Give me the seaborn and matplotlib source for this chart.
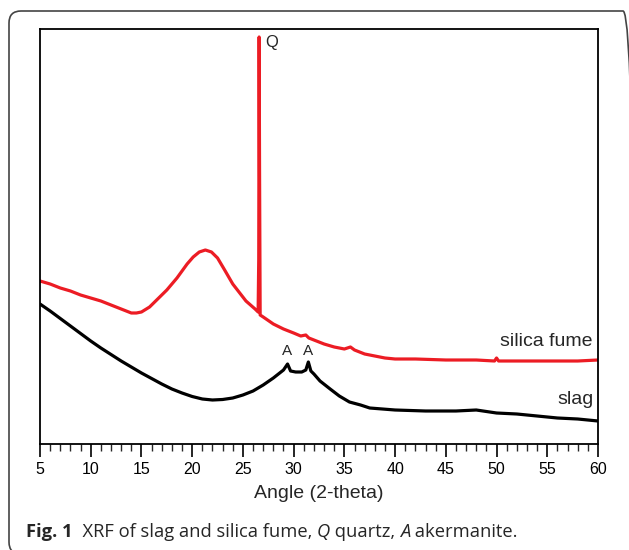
import numpy as np
import pandas as pd
import matplotlib
matplotlib.use("Agg")
import matplotlib.pyplot as plt
import seaborn as sns
from matplotlib.patches import FancyBboxPatch
from matplotlib.ticker import MultipleLocator

# ---- data (intensity in arbitrary units) ----
sf_angle = [5, 6, 7, 8, 9, 10, 11, 12, 13, 13.5, 14, 14.5, 15, 15.8, 16.5, 17.5, 18.5, 19.5, 20.1,
            20.7, 21.3, 21.9, 22.5, 23.2, 24, 25.3, 26.2, 26.5, 26.56, 26.6, 26.64, 26.7,
            27, 28, 29, 30, 30.7, 31.2, 31.5, 32, 33, 34, 35, 35.6, 36, 37, 38, 39, 40,
            42, 45, 48, 49.8, 50.0, 50.2, 52, 55, 58, 60]
sf_int = [163, 160, 156, 153, 149, 146, 143, 139, 135, 133, 131, 131, 132, 137, 144, 154, 166, 180, 187,
          192, 194, 192, 186, 174, 160, 143, 135, 132, 185, 407, 275, 129,
          127, 120, 115, 111, 108, 109, 106, 104, 100, 97, 95, 97, 94, 90, 88, 86, 85,
          85, 84, 84, 83, 86, 83, 83, 83, 83, 84]

slag_angle = [5, 6, 7, 8, 9, 10, 11, 12, 13, 14, 15, 16, 17, 18, 19, 20, 21, 22, 23, 24,
              25, 26, 27, 28, 28.5, 29, 29.4, 29.7, 30.2, 30.8, 31.2, 31.45, 31.7, 32,
              32.6, 33.6, 34.5, 35.5, 36.6, 37.5, 40, 43, 46, 48, 50, 52, 54, 56, 58, 60]
slag_int = [140, 133, 125.5, 118, 110.5, 103, 96, 89.5, 83, 77, 71, 65.5, 60, 55, 51, 47.5, 45, 44, 44.5, 46,
            49, 53, 59, 66, 70, 74, 80, 73, 72, 72, 74, 82, 73, 70,
            63, 55, 48, 42, 39, 36, 34, 33, 33, 34, 31, 30, 28, 26, 25, 23]

x_ticks = [5, 10, 15, 20, 25, 30, 35, 40, 45, 50, 55, 60]
series_names = ["silica fume", "slag"]
x_label = "Angle (2-theta)"

df = pd.concat([
    pd.DataFrame({"angle": sf_angle, "intensity": sf_int, "series": "silica fume"}),
    pd.DataFrame({"angle": slag_angle, "intensity": slag_int, "series": "slag"}),
], ignore_index=True)

sns.set_theme(style="white")
plt.rcParams["font.family"] = ["Liberation Sans", "DejaVu Sans"]

W, H = 629, 550
fig = plt.figure(figsize=(W / 100, H / 100), dpi=100)
ax = fig.add_axes([40 / W, 1 - 444 / H, (598 - 40) / W, (444 - 29) / H])

sns.lineplot(data=df, x="angle", y="intensity", hue="series",
             palette={"silica fume": "#ec1c24", "slag": "#000000"},
             estimator=None, sort=False, legend=False, linewidth=2.3, ax=ax)

ax.set_xlim(5, 60)
ax.set_ylim(0, 415)
ax.set_xticks(x_ticks)
ax.set_xticklabels([str(t) for t in x_ticks])
ax.xaxis.set_minor_locator(MultipleLocator(1))
ax.set_yticks([])
ax.set_ylabel("")
ax.set_xlabel(x_label, fontsize=14, labelpad=6)
ax.tick_params(axis="x", which="major", direction="out", length=9, width=1.2,
               labelsize=11.5, pad=4, bottom=True, colors="black")
ax.tick_params(axis="x", which="minor", direction="out", length=5, width=1.0, bottom=True)
for s in ax.spines.values():
    s.set_linewidth(1.3)
    s.set_color("black")

ax.text(27.2, 402, "Q", fontsize=12, ha="left", va="center")
ax.text(29.35, 93, "A", fontsize=11, ha="center", va="center")
ax.text(31.4, 93, "A", fontsize=11, ha="center", va="center")
ax.text(59.5, 103, "silica fume", fontsize=14, ha="right", va="center")
ax.text(59.6, 45, "slag", fontsize=14, ha="right", va="center")

# outer rounded frame
frame = FancyBboxPatch((9, -4), 626, 543, boxstyle="round,pad=0,rounding_size=12",
                       transform=None, fill=False, edgecolor="#444444", linewidth=1.2)
fig.patches.append(frame)

# caption with mixed styles
cap_parts = [("Fig. 1", "bold", "normal"), ("  XRF of slag and silica fume, ", "normal", "normal"),
             ("Q", "normal", "italic"), (" quartz, ", "normal", "normal"),
             ("A", "normal", "italic"), (" akermanite.", "normal", "normal")]
fig.canvas.draw()
renderer = fig.canvas.get_renderer()
xpos = 26
ycap = H - 532
for txt, wt, st in cap_parts:
    t = fig.text(xpos / W, ycap / H, txt, fontsize=13.2, fontweight=wt, fontstyle=st,
                 family=["Open Sans", "DejaVu Sans"], ha="left", va="center")
    bb = t.get_window_extent(renderer=renderer)
    xpos += bb.width

fig.savefig("out.png", dpi=100)
